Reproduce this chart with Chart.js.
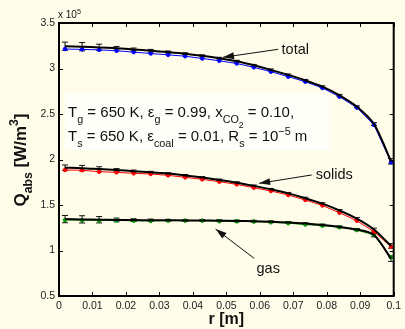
<!DOCTYPE html>
<html>
<head>
<meta charset="utf-8">
<script src="https://cdn.jsdelivr.net/npm/chart.js@4.4.1/dist/chart.umd.min.js"></script>
<style>
    html, body { margin: 0; padding: 0; background: #fffce9; }
</style>
</head>
<body>
<canvas id="qabsChart" width="405" height="329"></canvas>
<script>
// radial positions [m]
const rValues = [0.0018, 0.0069, 0.0120, 0.0172, 0.0223, 0.0274, 0.0326, 0.0377, 0.0428, 0.0479,
                 0.0531, 0.0582, 0.0633, 0.0685, 0.0736, 0.0787, 0.0838, 0.0890, 0.0941, 0.0992];

// Q_abs [x 1e5 W/m3], coloured markers
const totalPoints  = [3.214, 3.210, 3.205, 3.195, 3.180, 3.165, 3.150, 3.135, 3.110, 3.085,
                      3.055, 3.013, 2.965, 2.910, 2.855, 2.786, 2.690, 2.570, 2.380, 1.970];
const solidsPoints = [1.885, 1.882, 1.866, 1.859, 1.848, 1.841, 1.826, 1.804, 1.782, 1.756,
                      1.727, 1.690, 1.654, 1.610, 1.555, 1.495, 1.415, 1.327, 1.207, 1.042];
const gasPoints    = [1.335, 1.333, 1.330, 1.330, 1.327, 1.325, 1.328, 1.328, 1.328, 1.322,
                      1.320, 1.318, 1.310, 1.300, 1.285, 1.273, 1.255, 1.225, 1.170, 0.925];

// black curves and their error bars
const totalCurve  = [3.245, 3.240, 3.232, 3.222, 3.210, 3.195, 3.180, 3.163, 3.140, 3.113,
                     3.080, 3.035, 2.985, 2.930, 2.870, 2.800, 2.705, 2.580, 2.390, 1.980];
const totalErr    = [0.045, 0.045, 0.035, 0.020, 0.015, 0.015, 0.012, 0.010, 0.010, 0.010,
                     0.010, 0.010, 0.010, 0.010, 0.010, 0.010, 0.010, 0.010, 0.015, 0.030];
const solidsCurve = [1.910, 1.905, 1.895, 1.885, 1.872, 1.860, 1.845, 1.825, 1.802, 1.775,
                     1.745, 1.710, 1.672, 1.628, 1.575, 1.515, 1.440, 1.350, 1.230, 1.050];
const solidsErr   = [0.030, 0.030, 0.025, 0.015, 0.012, 0.010, 0.010, 0.010, 0.010, 0.010,
                     0.010, 0.010, 0.010, 0.010, 0.010, 0.010, 0.010, 0.012, 0.015, 0.025];
const gasCurve    = [1.345, 1.342, 1.338, 1.336, 1.334, 1.333, 1.332, 1.331, 1.330, 1.328,
                     1.325, 1.322, 1.316, 1.308, 1.296, 1.280, 1.260, 1.230, 1.170, 0.910];
const gasErr      = [0.040, 0.040, 0.035, 0.020, 0.015, 0.012, 0.010, 0.010, 0.010, 0.010,
                     0.010, 0.010, 0.010, 0.010, 0.010, 0.010, 0.010, 0.012, 0.020, 0.030];

// annotations: label, label position, arrow tail, arrow tip (data units)
const arrowNotes = [
    { text: 'total',  lx: 0.0665, ly: 3.203, tail: [0.0655, 3.211], tip: [0.0490, 3.123], align: 'left' },
    { text: 'solids', lx: 0.0767, ly: 1.825, tail: [0.0755, 1.830], tip: [0.0598, 1.738], align: 'left' },
    { text: 'gas',    lx: 0.0625, ly: 0.797, tail: [0.0583, 0.914], tip: [0.0468, 1.236], align: 'center' }
];

const FONT = '"Liberation Sans", Arial, sans-serif';

function toXY(ys) {
    return rValues.map((r, i) => ({ x: r, y: ys[i] }));
}

function fmtTick(v) {
    return String(+v.toFixed(2));
}

// parts: [text, kind]  0 normal, 1 sub, 2 sup, 3 sub-sub
function richWidth(ctx, parts, size, weight) {
    let w = 0;
    parts.forEach(([txt, kind]) => {
        let fs = kind === 0 ? size : (kind === 3 ? size * 0.58 : size * 0.72);
        ctx.font = weight + ' ' + fs + 'px ' + FONT;
        w += ctx.measureText(txt).width;
    });
    return w;
}

function drawRich(ctx, parts, x, y, size, weight) {
    let cx = x;
    parts.forEach(([txt, kind]) => {
        let fs = size, dy = 0;
        if (kind === 1) { fs = size * 0.72; dy = size * 0.38; }
        if (kind === 2) { fs = size * 0.72; dy = -size * 0.42; }
        if (kind === 3) { fs = size * 0.58; dy = size * 0.72; }
        ctx.font = weight + ' ' + fs + 'px ' + FONT;
        ctx.fillText(txt, cx, y + dy);
        cx += ctx.measureText(txt).width;
    });
}

const decorPlugin = {
    id: 'decor',
    beforeDraw(chart) {
        const ctx = chart.ctx;
        ctx.save();
        ctx.fillStyle = '#fffce9';
        ctx.fillRect(0, 0, chart.width, chart.height);
        ctx.restore();
    },
    beforeDatasetsDraw(chart) {
        const ctx = chart.ctx;
        const xs = chart.scales.x, ys = chart.scales.y;
        ctx.save();
        ctx.strokeStyle = '#111';
        ctx.lineWidth = 1;
        [[totalCurve, totalErr], [solidsCurve, solidsErr], [gasCurve, gasErr]].forEach(([vals, errs]) => {
            vals.forEach((v, i) => {
                const px = xs.getPixelForValue(rValues[i]);
                const top = ys.getPixelForValue(v + errs[i]);
                const bot = ys.getPixelForValue(v - errs[i]);
                ctx.beginPath();
                ctx.moveTo(px, top); ctx.lineTo(px, bot);
                ctx.moveTo(px - 3, top); ctx.lineTo(px + 3, top);
                ctx.moveTo(px - 3, bot); ctx.lineTo(px + 3, bot);
                ctx.stroke();
            });
        });
        ctx.restore();
    },
    afterDatasetsDraw(chart) {
        const ctx = chart.ctx;
        const area = chart.chartArea;
        const xs = chart.scales.x, ys = chart.scales.y;
        ctx.save();

        // frame + inward ticks
        ctx.strokeStyle = '#000';
        ctx.lineWidth = 2;
        ctx.strokeRect(area.left, area.top, area.right - area.left, area.bottom - area.top);
        ctx.lineWidth = 1;
        ctx.beginPath();
        xs.ticks.forEach(t => {
            const px = Math.round(xs.getPixelForValue(t.value)) + 0.5;
            ctx.moveTo(px, area.bottom); ctx.lineTo(px, area.bottom - 4);
            ctx.moveTo(px, area.top); ctx.lineTo(px, area.top + 4);
        });
        ys.ticks.forEach(t => {
            const py = Math.round(ys.getPixelForValue(t.value)) + 0.5;
            ctx.moveTo(area.left, py); ctx.lineTo(area.left + 4, py);
            ctx.moveTo(area.right, py); ctx.lineTo(area.right - 4, py);
        });
        ctx.stroke();

        // arrows with labels
        ctx.fillStyle = '#111';
        ctx.strokeStyle = '#111';
        arrowNotes.forEach(n => {
            const x1 = xs.getPixelForValue(n.tail[0]), y1 = ys.getPixelForValue(n.tail[1]);
            const x2 = xs.getPixelForValue(n.tip[0]), y2 = ys.getPixelForValue(n.tip[1]);
            const ang = Math.atan2(y2 - y1, x2 - x1);
            ctx.lineWidth = 1;
            ctx.beginPath();
            ctx.moveTo(x1, y1); ctx.lineTo(x2, y2);
            ctx.stroke();
            ctx.beginPath();
            ctx.moveTo(x2, y2);
            ctx.lineTo(x2 - 11 * Math.cos(ang) + 3.5 * Math.sin(ang), y2 - 11 * Math.sin(ang) - 3.5 * Math.cos(ang));
            ctx.lineTo(x2 - 11 * Math.cos(ang) - 3.5 * Math.sin(ang), y2 - 11 * Math.sin(ang) + 3.5 * Math.cos(ang));
            ctx.closePath();
            ctx.fill();
            ctx.font = '14.5px ' + FONT;
            ctx.textAlign = n.align;
            ctx.textBaseline = 'middle';
            ctx.fillText(n.text, xs.getPixelForValue(n.lx), ys.getPixelForValue(n.ly));
        });

        // parameter box
        const bx = xs.getPixelForValue(0.0018), by = ys.getPixelForValue(2.731);
        const bx2 = xs.getPixelForValue(0.0808), by2 = ys.getPixelForValue(2.104);
        ctx.fillStyle = '#fffffa';
        ctx.fillRect(bx, by, bx2 - bx, by2 - by);
        ctx.fillStyle = '#111';
        ctx.textAlign = 'left';
        ctx.textBaseline = 'alphabetic';
        drawRich(ctx, [['T', 0], ['g', 1], [' = 650 K, \u03b5', 0], ['g', 1], [' = 0.99, x', 0], ['CO', 1], ['2', 3], [' = 0.10,', 0]],
                 bx + 3, by + 24, 15, 'normal');
        drawRich(ctx, [['T', 0], ['s', 1], [' = 650 K, \u03b5', 0], ['coal', 1], [' = 0.01, R', 0], ['s', 1], [' = 10', 0], ['\u22125', 2], [' m', 0]],
                 bx + 3, by + 48, 15, 'normal');

        // exponent label
        drawRich(ctx, [['x 10', 0], ['5', 2]], area.left - 1, area.top - 5, 10, 'normal');

        // axis titles
        const xParts = [['r [m]', 0]];
        const xw = richWidth(ctx, xParts, 16, 'bold');
        drawRich(ctx, xParts, (area.left + area.right) / 2 - xw / 2, 324, 16, 'bold');

        const yParts = [['Q', 0], ['abs', 1], [' [W/m', 0], ['3', 2], [']', 0]];
        const yw = richWidth(ctx, yParts, 17, 'bold');
        ctx.translate(25.5, 160);
        ctx.rotate(-Math.PI / 2);
        drawRich(ctx, yParts, -yw / 2, 0, 17, 'bold');
        ctx.restore();
    }
};

const commonTicks = {
    font: { family: FONT, size: 10.5 },
    color: '#222',
    padding: 4,
    autoSkip: false,
    maxRotation: 0,
    callback: fmtTick
};

new Chart(document.getElementById('qabsChart'), {
    type: 'line',
    data: {
        datasets: [
            { data: toXY(totalCurve),  borderColor: '#000', borderWidth: 2, pointRadius: 0, tension: 0.3, order: 0 },
            { data: toXY(solidsCurve), borderColor: '#000', borderWidth: 2, pointRadius: 0, tension: 0.3, order: 0 },
            { data: toXY(gasCurve),    borderColor: '#000', borderWidth: 2, pointRadius: 0, tension: 0.3, order: 0 },
            { data: toXY(totalPoints),  borderColor: '#0000ff', backgroundColor: '#0000ff', borderWidth: 1, pointRadius: 1.8, order: 1 },
            { data: toXY(solidsPoints), borderColor: '#ff0000', backgroundColor: '#ff0000', borderWidth: 1, pointRadius: 1.8, order: 1 },
            { data: toXY(gasPoints),    borderColor: '#009900', backgroundColor: '#009900', borderWidth: 1, pointRadius: 1.8, order: 1 }
        ]
    },
    options: {
        responsive: false,
        animation: false,
        devicePixelRatio: 1,
        layout: { autoPadding: false, padding: { top: 23, right: 7, left: 0, bottom: 0 } },
        plugins: { legend: { display: false }, tooltip: { enabled: false } },
        scales: {
            x: {
                type: 'linear', min: 0, max: 0.1,
                ticks: Object.assign({ stepSize: 0.01 }, commonTicks),
                grid: { display: false, drawTicks: false },
                border: { display: false },
                afterFit: s => { s.height = 33; }
            },
            y: {
                min: 0.5, max: 3.5,
                ticks: Object.assign({ stepSize: 0.5 }, commonTicks),
                grid: { display: false, drawTicks: false },
                border: { display: false },
                afterFit: s => { s.width = 59; }
            }
        }
    },
    plugins: [decorPlugin]
});
</script>
</body>
</html>
